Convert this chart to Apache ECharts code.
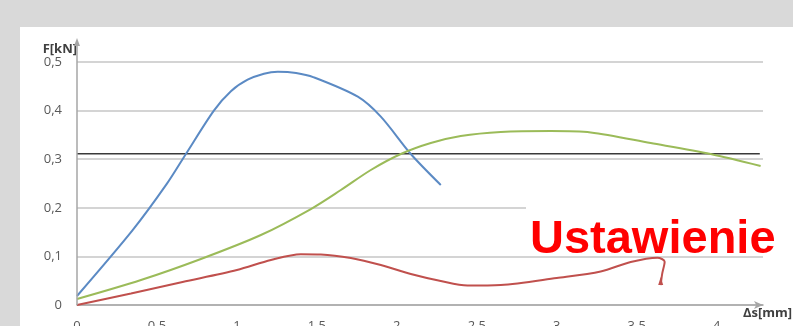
<!DOCTYPE html>
<html>
<head>
<meta charset="utf-8">
<script src="https://cdn.jsdelivr.net/npm/echarts@6/dist/echarts.min.js"></script>
<style>
  html, body { margin: 0; padding: 0; background: #d9d9d9; }
  #chart { width: 793px; height: 326px; }
</style>
</head>
<body>
<div id="chart"></div>
<script>
// Force F [kN] against displacement Δs [mm] for three samples
const blueCurve = [
  [0, 0.0185], [0.348, 0.154], [0.5625, 0.2496], [0.681, 0.3107], [0.856, 0.40],
  [0.9625, 0.440], [1.067, 0.4635], [1.169, 0.4760], [1.256, 0.480], [1.37, 0.4775],
  [1.481, 0.4685], [1.756, 0.4286], [1.90, 0.3875], [2.0875, 0.3107], [2.275, 0.2469]
];
const greenCurve = [
  [0, 0.0123], [0.40, 0.0514], [0.775, 0.0947], [1.15, 0.144], [1.4625, 0.1975],
  [1.65, 0.2366], [1.8375, 0.2778], [2.025, 0.3107], [2.2125, 0.3333], [2.40, 0.3477],
  [2.65, 0.356], [2.9625, 0.358], [3.2125, 0.355], [3.5875, 0.3333], [3.9625, 0.3107],
  [4.275, 0.286]
];
const redCurve = [
  [0, 0.0], [0.3375, 0.0237], [0.66, 0.0473], [1.0, 0.072], [1.2125, 0.0926],
  [1.40, 0.1045], [1.525, 0.104], [1.7125, 0.0967], [1.90, 0.0823], [2.0875, 0.0638],
  [2.275, 0.0494], [2.442, 0.0401], [2.65, 0.0412], [3.0, 0.0556], [3.275, 0.069],
  [3.4625, 0.0885], [3.63, 0.0973], [3.675, 0.089], [3.66, 0.065], [3.65, 0.041]
];
// Reference level
const refLevel = [[0, 0.311], [4.27, 0.311]];

const xTicks = [0, 0.5, 1, 1.5, 2, 2.5, 3, 3.5, 4];
const yTicks = [0, 0.1, 0.2, 0.3, 0.4, 0.5];

const chart = echarts.init(document.getElementById('chart'));
const labelFont = { fontFamily: 'Open Sans', fontSize: 13, color: '#595959' };

chart.setOption({
  backgroundColor: '#d9d9d9',
  animation: false,
  grid: { left: 77, right: 30, top: 62, bottom: 21, containLabel: false, outerBoundsMode: 'none' },
  xAxis: {
    type: 'value', min: 0, max: 4.29, interval: 0.5,
    name: 'Δs[mm]', nameLocation: 'end', nameGap: -20,
    nameTextStyle: { fontFamily: 'Open Sans', fontSize: 13, fontWeight: 'bold', color: '#404040',
                     align: 'left', verticalAlign: 'top', padding: [2, 0, 0, 0] },
    axisLine: { show: true, lineStyle: { color: '#a6a6a6', width: 1.5 },
                symbol: ['none', 'arrow'], symbolSize: [6, 9] },
    axisTick: { show: false },
    splitLine: { show: false },
    axisLabel: Object.assign({ margin: 15,
      formatter: v => xTicks.some(t => Math.abs(t - v) < 1e-9) ? String(v) : '' }, labelFont)
  },
  yAxis: {
    type: 'value', min: 0, max: 0.5, interval: 0.1,
    name: 'F[kN]', nameLocation: 'end', nameGap: 12,
    nameTextStyle: { fontFamily: 'Open Sans', fontSize: 13, fontWeight: 'bold', color: '#404040',
                     align: 'right', verticalAlign: 'middle' },
    axisLine: { show: false },
    axisTick: { show: false },
    splitLine: { show: true, lineStyle: { color: '#d4d4d4', width: 2 } },
    axisLabel: Object.assign({ margin: 15,
      formatter: v => yTicks.some(t => Math.abs(t - v) < 1e-9) ? (v === 0 ? '0' : String(+v.toFixed(1)).replace('.', ',')) : '' }, labelFont)
  },
  graphic: [
    { type: 'rect', z: -10, shape: { x: 20, y: 27, width: 773, height: 299 }, style: { fill: '#ffffff' } },
    { type: 'line', z: 5, shape: { x1: 77, y1: 305, x2: 77, y2: 42 }, style: { stroke: '#a6a6a6', lineWidth: 1.5 } },
    { type: 'polygon', z: 5, shape: { points: [[77, 38], [74, 46], [80, 46]] }, style: { fill: '#a6a6a6' } },
    { type: 'rect', z: 19, shape: { x: 526, y: 180, width: 267, height: 48 }, style: { fill: '#ffffff' } },
    { type: 'text', z: 20, style: { text: 'Ustawienie', x: 530, y: 217, textBaseline: 'alphabetic',
      font: 'bold 47px "Liberation Sans", Arial, sans-serif', fill: '#ff0000' } }
  ],
  series: [
    { type: 'line', data: refLevel, symbol: 'none', lineStyle: { color: '#3a3a3a', width: 1.5 }, z: 3 },
    { type: 'line', data: blueCurve, smooth: 0.3, symbol: 'none',
      lineStyle: { color: '#5b8ac4', width: 2 } },
    { type: 'line', data: greenCurve, smooth: 0.3, symbol: 'none',
      lineStyle: { color: '#9bbb59', width: 2 } },
    { type: 'line', data: redCurve, smooth: 0.3, symbol: 'none',
      lineStyle: { color: '#c0504d', width: 2 },
      markPoint: { symbol: 'triangle', symbolSize: [5, 8], label: { show: false },
        itemStyle: { color: '#c0504d' }, data: [{ coord: redCurve[redCurve.length - 1], symbolOffset: [0, -4] }] } }
  ]
});
</script>
</body>
</html>
